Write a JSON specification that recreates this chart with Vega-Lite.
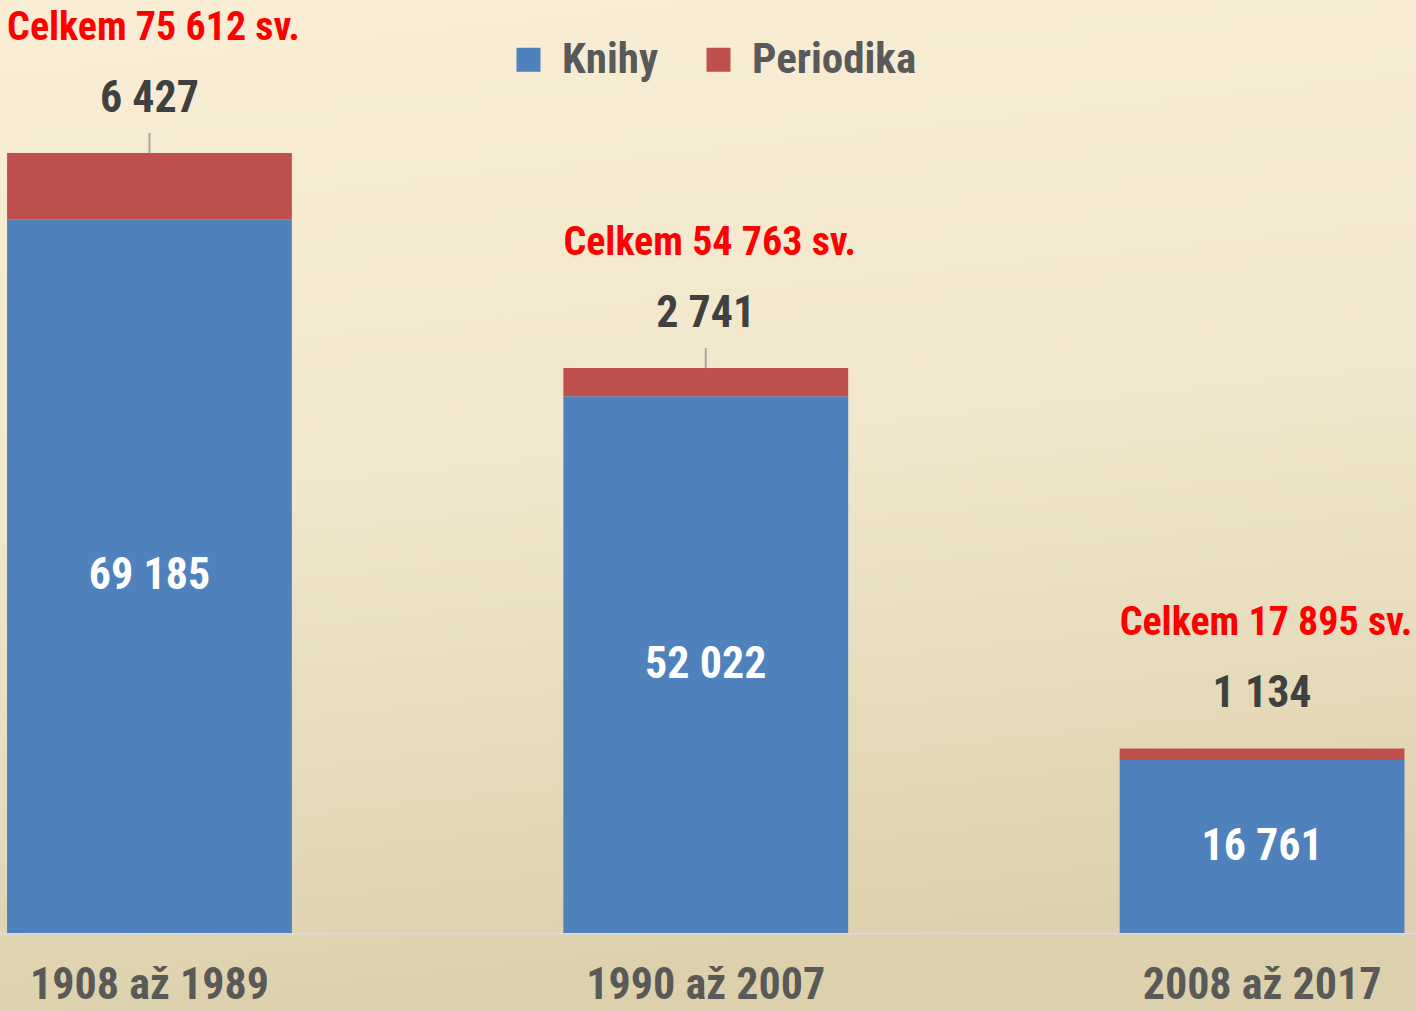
{
  "$schema": "https://vega.github.io/schema/vega-lite/v6.json",
  "width": 1416,
  "height": 1011,
  "autosize": {"type": "none"},
  "padding": 0,
  "background": "#ddd1ad",
  "config": {
    "view": {
      "stroke": null,
      "fill": {
        "gradient": "linear",
        "x1": 0, "y1": 0, "x2": 0.15, "y2": 1,
        "stops": [
          {"offset": 0, "color": "#f9eed5"},
          {"offset": 0.5, "color": "#f1e7cc"},
          {"offset": 1, "color": "#ddd1ad"}
        ]
      }
    },
    "font": "Liberation Sans Narrow, Arial Narrow, Roboto Condensed, DejaVu Sans Condensed, sans-serif",
    "locale": {
      "number": {"decimal": ",", "thousands": " ", "grouping": [3], "currency": ["", " Kč"]}
    }
  },
  "datasets": {
    "useky": [
      {"obdobi": "1908 až 1989", "druh": "Knihy", "pocet": 69185},
      {"obdobi": "1908 až 1989", "druh": "Periodika", "pocet": 6427},
      {"obdobi": "1990 až 2007", "druh": "Knihy", "pocet": 52022},
      {"obdobi": "1990 až 2007", "druh": "Periodika", "pocet": 2741},
      {"obdobi": "2008 až 2017", "druh": "Knihy", "pocet": 16761},
      {"obdobi": "2008 až 2017", "druh": "Periodika", "pocet": 1134}
    ],
    "souhrn": [
      {"obdobi": "1908 až 1989", "knihy": 69185, "periodika": 6427, "celkem": 75612, "popis": "Celkem 75 612 sv."},
      {"obdobi": "1990 až 2007", "knihy": 52022, "periodika": 2741, "celkem": 54763, "popis": "Celkem 54 763 sv."},
      {"obdobi": "2008 až 2017", "knihy": 16761, "periodika": 1134, "celkem": 17895, "popis": "Celkem 17 895 sv."}
    ]
  },
  "encoding": {
    "x": {
      "field": "obdobi",
      "type": "nominal",
      "sort": null,
      "scale": {"paddingInner": 0.488, "paddingOuter": 0.0167, "align": 0.38},
      "axis": {
        "title": null,
        "orient": "bottom",
        "offset": -78,
        "labelAngle": 0,
        "labelFontSize": 44,
        "labelFontWeight": "bold",
        "labelColor": "#595959",
        "labelPadding": 30,
        "labelLimit": 0,
        "ticks": false,
        "domainColor": "#d9d9d9",
        "domainWidth": 2,
        "grid": false
      }
    }
  },
  "layer": [
    {
      "data": {"name": "useky"},
      "mark": {"type": "bar"},
      "encoding": {
        "y": {
          "field": "pocet",
          "type": "quantitative",
          "stack": "zero",
          "scale": {"domain": [-7561, 90440], "nice": false, "zero": false},
          "axis": null
        },
        "order": {"field": "druh", "sort": "ascending"},
        "color": {
          "field": "druh",
          "type": "nominal",
          "scale": {"domain": ["Knihy", "Periodika"], "range": ["#4f81bd", "#c0504d"]},
          "legend": {
            "title": null,
            "orient": "none",
            "legendX": 507,
            "legendY": 38,
            "direction": "horizontal",
            "symbolType": "square",
            "symbolSize": 576,
            "symbolStrokeWidth": 0,
            "labelFontSize": 43,
            "labelFontWeight": "bold",
            "labelColor": "#595959",
            "labelOffset": 12,
            "labelLimit": 0,
            "columnPadding": 38
          }
        }
      }
    },
    {
      "data": {"name": "souhrn"},
      "transform": [{"calculate": "datum.knihy / 2", "as": "stred"}],
      "mark": {"type": "text", "fontSize": 44, "fontWeight": "bold", "color": "#ffffff", "baseline": "middle"},
      "encoding": {
        "y": {"field": "stred", "type": "quantitative"},
        "text": {"field": "knihy", "type": "quantitative", "format": ",d"}
      }
    },
    {
      "data": {"name": "souhrn"},
      "transform": [{"filter": "datum.periodika > 2000"}],
      "mark": {"type": "rule", "color": "#a6a6a6", "strokeWidth": 2, "y2Offset": -20},
      "encoding": {
        "y": {"field": "celkem", "type": "quantitative"},
        "y2": {"field": "celkem"}
      }
    },
    {
      "data": {"name": "souhrn"},
      "mark": {"type": "text", "fontSize": 44, "fontWeight": "bold", "color": "#404040", "baseline": "middle", "dy": -54},
      "encoding": {
        "y": {"field": "celkem", "type": "quantitative"},
        "text": {"field": "periodika", "type": "quantitative", "format": ",d"}
      }
    },
    {
      "data": {"name": "souhrn"},
      "mark": {"type": "text", "fontSize": 40, "fontWeight": "bold", "color": "#ff0000", "baseline": "middle", "dy": -125, "dx": 4},
      "encoding": {
        "y": {"field": "celkem", "type": "quantitative"},
        "text": {"field": "popis", "type": "nominal"}
      }
    }
  ]
}
